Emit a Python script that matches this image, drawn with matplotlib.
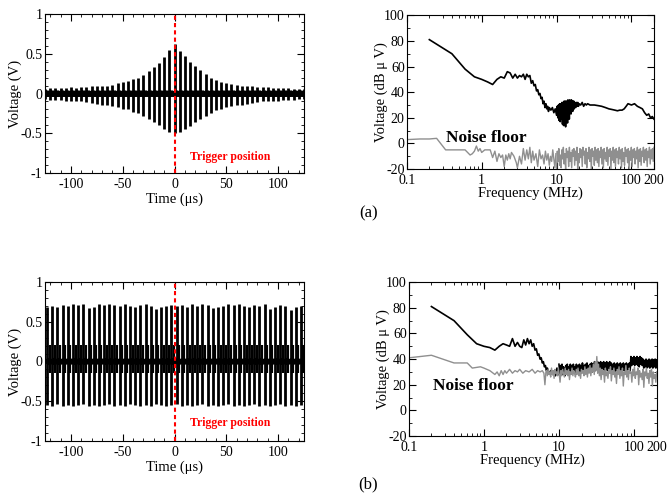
import numpy as np
import matplotlib
matplotlib.use("Agg")
import matplotlib.pyplot as plt
from matplotlib.ticker import MultipleLocator, FixedLocator, LogLocator, NullFormatter

plt.rcParams['font.family'] = ['Liberation Serif', 'DejaVu Serif']
plt.rcParams['font.size'] = 10
plt.rcParams['axes.unicode_minus'] = False

# ---------------- time domain data ----------------
# (a) pulse train, 5 us period, peak amplitudes read per pulse
TIME_A = [-125, -120, -115, -110, -105, -100, -95, -90, -85, -80, -75, -70, -65, -60, -55,
          -50, -45, -40, -35, -30, -25, -20, -15, -10, -5, 0, 5, 10, 15, 20, 25, 30, 35,
          40, 45, 50, 55, 60, 65, 70, 75, 80, 85, 90, 95, 100, 105, 110, 115, 120, 125]
POS_A = [0.06, 0.07, 0.07, 0.07, 0.07, 0.08, 0.07, 0.08, 0.08, 0.09, 0.09, 0.10, 0.10, 0.11, 0.13,
         0.15, 0.16, 0.18, 0.20, 0.23, 0.28, 0.33, 0.38, 0.46, 0.55, 0.62, 0.53, 0.47, 0.40, 0.35,
         0.29, 0.24, 0.20, 0.17, 0.15, 0.13, 0.12, 0.11, 0.10, 0.09, 0.09, 0.08, 0.08, 0.08, 0.07,
         0.07, 0.07, 0.07, 0.06, 0.06, 0.06]
NEG_A = [-0.07, -0.08, -0.08, -0.08, -0.09, -0.09, -0.10, -0.10, -0.11, -0.12, -0.13, -0.14, -0.15,
         -0.16, -0.17, -0.19, -0.20, -0.23, -0.25, -0.28, -0.32, -0.36, -0.40, -0.45, -0.48, -0.50,
         -0.48, -0.45, -0.41, -0.36, -0.32, -0.28, -0.25, -0.21, -0.19, -0.17, -0.16, -0.15, -0.14,
         -0.13, -0.12, -0.11, -0.10, -0.10, -0.09, -0.09, -0.08, -0.08, -0.08, -0.07, -0.07]

# (b) pulse train, tall pulses every 5 us plus small pulses in between
TIME_B = [-123, -118, -113, -108, -103, -98, -93, -88, -83, -78, -73, -68, -63, -58, -53,
          -48, -43, -38, -33, -28, -23, -18, -13, -8, -3, 2, 7, 12, 17, 22, 27, 32, 37,
          42, 47, 52, 57, 62, 67, 72, 77, 82, 87, 92, 97, 102, 107, 112, 117, 122]
POS_B = [0.69, 0.70, 0.69, 0.71, 0.70, 0.72, 0.71, 0.72, 0.67, 0.69, 0.72, 0.71, 0.72, 0.71, 0.70,
         0.72, 0.70, 0.69, 0.71, 0.72, 0.70, 0.66, 0.69, 0.70, 0.71, 0.70, 0.71, 0.69, 0.72, 0.70,
         0.72, 0.71, 0.67, 0.69, 0.70, 0.72, 0.71, 0.72, 0.70, 0.69, 0.71, 0.70, 0.72, 0.66, 0.69,
         0.71, 0.70, 0.65, 0.69, 0.70]
NEG_B = [-0.55, -0.56, -0.54, -0.56, -0.55, -0.56, -0.55, -0.54, -0.56, -0.55, -0.56, -0.55, -0.54,
         -0.56, -0.55, -0.56, -0.54, -0.55, -0.56, -0.55, -0.56, -0.54, -0.55, -0.56, -0.55, -0.54,
         -0.56, -0.55, -0.56, -0.55, -0.54, -0.56, -0.55, -0.56, -0.55, -0.54, -0.56, -0.55, -0.56,
         -0.55, -0.54, -0.56, -0.55, -0.56, -0.55, -0.54, -0.56, -0.55, -0.56, -0.55]
SMALL_POS_B = 0.21
SMALL_NEG_B = -0.15

# small ringing after each pulse (offset in us, value in V)
RING_DT = [0.6, 1.2, 1.8, 2.4, 3.0, 3.6, 4.2, 4.8]
RING_V = [0.035, -0.035, 0.03, -0.03, 0.03, -0.03, 0.025, -0.025]

# ---------------- spectrum data ----------------
# (a) signal spectrum
FREQ_A = [0.2, 0.4, 0.6, 0.8, 1.0, 1.2, 1.4, 1.6, 1.8, 2.0, 2.2, 2.4, 2.6, 2.8, 3.0, 3.2, 3.4,
          3.6, 3.8, 4.0, 4.2, 4.4, 4.6, 4.8, 5.0, 5.2, 5.4, 5.6, 5.8, 6.0, 6.2, 6.4, 6.6, 6.8,
          7.0, 7.2, 7.4, 7.6, 7.8, 8.0, 8.4, 8.8, 9.2, 9.6,
          10.0, 10.2, 10.4, 10.6, 10.8, 11.0, 11.2, 11.4, 11.6, 11.8, 12.0, 12.2, 12.4, 12.6,
          12.8, 13.0, 13.2, 13.4, 13.6, 13.8, 14.0, 14.2, 14.4, 14.6, 14.8, 15.0, 15.2, 15.4,
          15.6, 15.8, 16.0, 16.2, 16.4, 16.6, 16.8, 17.0, 17.2, 17.6, 18.0, 18.4, 18.8, 19.2,
          19.6, 20, 21, 22, 23, 24, 25, 26, 28, 30, 32, 36, 40, 45, 50, 55, 60, 65, 70, 75, 80,
          85, 90, 95, 100, 110, 120, 130, 140, 150, 160, 170, 180, 190, 200]
LEVEL_A = [81, 70, 58, 52, 50, 48, 46, 50, 52, 51, 56, 55, 51, 54, 51, 53, 52,
           54, 50, 54, 52, 53, 47, 49, 45, 46, 41, 42, 38, 39, 35, 36, 31, 33,
           28, 31, 27, 29, 25, 28, 26, 28, 24, 27,
           22, 29, 20, 30, 18, 31, 17, 31, 19, 32, 15, 32, 14, 33,
           20, 33, 13, 33, 22, 33, 16, 34, 24, 33, 19, 34, 25, 33,
           23, 34, 26, 33, 25, 33, 27, 33, 27, 32, 28, 32, 29, 32,
           29, 31, 30, 32, 29, 31, 30, 31, 30, 30, 30, 29.5, 29, 28, 27, 26.5, 26, 25.5, 26, 26, 27,
           29, 31, 30.5, 30, 31, 29, 28, 27, 24, 22, 23, 20, 21, 19]

# (a) noise floor, sparse low-frequency part and dense part from 10 to 200 MHz
FREQ_NA = [0.1, 0.15, 0.2, 0.25, 0.33, 0.4, 0.5, 0.6, 0.7, 0.75, 0.8, 0.85, 0.9, 0.95, 1.0,
           1.1, 1.2, 1.3, 1.4, 1.5, 1.6, 1.7, 1.8, 1.9, 2.0, 2.1, 2.2, 2.3, 2.4, 2.5, 2.7, 2.9,
           3.0, 3.2, 3.4, 3.6, 3.8, 4.0, 4.2, 4.4, 4.6, 4.8, 5.0, 5.3, 5.6, 5.9, 6.2, 6.5, 6.8,
           7.1, 7.4, 7.7, 8.0, 8.3, 8.6, 8.9, 9.2, 9.5, 9.8]
LEVEL_NA = [3, 3.5, 3.5, 4, -5, -5, -5, -5, -9, -8, -6, -2, -6, -4, -7,
            -5, -5, -5, -11, -6, -14, -8, -11, -9, -18, -9, -13, -8, -12, -7, -10, -15,
            -19, -10, -16, -4, -13, -5, -12, -3, -15, -6, -13, -8, -18, -5, -12, -9, -16,
            -6, -13, -8, -17, -10, -14, -5, -12, -19, -8]
DENSE_NA = [-20, -6, -14, -4, -17, -9, -19, -5, -12, -3, -16, -8, -20, -4, -11, -6, -18, -3,
            -14, -7, -19, -5, -10, -4, -17, -6, -13, -3, -20, -8, -15, -4, -11, -5, -18, -3,
            -9, -6, -16, -4, -19, -7, -12, -3, -14, -5, -20, -4, -10, -6, -17, -3, -13, -5,
            -15, -4, -18, -6, -11, -3, -16, -5, -19, -4, -12, -7, -14, -3, -17, -5, -10, -4,
            -20, -6, -13, -3, -15, -5, -18, -4, -11, -6, -16, -3, -12, -5, -19, -4, -14, -7,
            -17, -3, -10, -5, -15, -4, -20, -6, -13, -3, -18, -5, -11, -4, -16, -6, -12, -3,
            -19, -5, -14, -4, -17, -6, -10, -3, -15, -5, -13, -4, -18, -6, -11, -3, -16, -5,
            -12, -4, -14, -3]
DENSE_NA_SPAN = (10, 200)

# (b) signal spectrum
FREQ_B = [0.2, 0.4, 0.6, 0.8, 1.0, 1.2, 1.4, 1.6, 1.8, 2.0, 2.2, 2.4, 2.6, 2.8, 3.0, 3.2, 3.4,
          3.6, 3.8, 4.0, 4.2, 4.4, 4.6, 4.8, 5.0, 5.2, 5.4, 5.6, 5.8, 6.0, 6.2, 6.4, 6.6, 6.8,
          7.0, 7.4, 7.8, 8.2, 8.6, 9.0, 9.4, 9.8]
LEVEL_B = [81, 70, 59, 52, 50, 49, 47, 50, 52, 51, 50, 56, 50, 53, 50, 49, 55,
           51, 56, 52, 55, 50, 52, 47, 48, 43, 44, 40, 41, 37, 38, 34, 35, 31,
           33, 29, 31, 28, 30, 27, 33, 28]
DENSE_B = [36, 29, 35, 30, 36, 28, 34, 31, 27, 35, 30, 36, 29, 34, 31, 36, 30, 35, 29, 36,
           31, 34, 28, 36, 30, 35, 31, 36, 29, 35, 30, 37, 31, 35, 30, 36, 29, 37, 31, 35,
           30, 36, 31, 37, 30, 36, 31, 38, 31, 37, 32, 38, 30, 37, 31, 38, 32, 37, 31, 38,
           30, 37, 32, 38, 31, 37, 31, 38, 32, 37, 31, 36, 32, 37, 30, 36, 31, 37, 32, 36,
           31, 37, 30, 36, 32, 37, 31, 36, 32, 37, 31, 36, 32, 37, 31, 42, 35, 41, 36, 42,
           35, 41, 36, 42, 35, 41, 34, 42, 36, 41, 35, 40, 33, 39, 34, 40, 33, 39, 34, 40,
           33, 39, 34, 40, 33, 39, 34, 40, 33, 39]
DENSE_B_SPAN = (10, 200)

# (b) noise floor
FREQ_NB = [0.1, 0.2, 0.4, 0.6, 0.7, 0.9, 1.0, 1.2, 1.4, 1.5, 1.6, 1.7, 1.8, 1.9, 2.0, 2.2,
           2.4, 2.6, 2.8, 3.0, 3.3, 3.6, 4.0, 4.4, 4.8, 5.2, 5.6, 6.0, 6.3, 6.5, 6.7]
LEVEL_NB = [41, 43, 37, 37, 33, 34, 33, 31, 28, 30, 27, 31, 28, 31, 29, 32,
            29, 31, 30, 32, 29, 31, 30, 32, 29, 31, 30, 31, 29, 20, 30]
DENSE_NB = [31, 27, 32, 28, 30, 26, 33, 28, 31, 25, 32, 29, 30, 27, 33, 28, 22, 31, 27, 32,
            29, 26, 33, 28, 31, 27, 32, 24, 30, 28, 33, 27, 31, 29, 26, 32, 28, 33, 27, 30,
            25, 32, 29, 31, 27, 34, 28, 32, 26, 33, 29, 35, 27, 33, 30, 36, 28, 38, 31, 42,
            29, 36, 27, 33, 24, 32, 28, 31, 22, 33, 27, 30, 25, 32, 29, 34, 23, 31, 28, 33,
            26, 30, 21, 32, 28, 34, 25, 31, 27, 33, 19, 30, 28, 35, 26, 31, 24, 33, 29, 30,
            22, 32, 27, 34, 25, 30, 28, 33, 20, 31, 26, 29, 24, 32, 18, 30, 27, 33, 25, 29,
            21, 31, 26, 32, 19, 30, 25, 28, 22, 30]
DENSE_NB_SPAN = (6.8, 200)

TRACE_BLACK = 'black'
NOISE_GREY = '#8f8f8f'


def style_time_axes(ax):
    ax.set_xlim(-125, 125)
    ax.set_ylim(-1, 1)
    ax.xaxis.set_major_locator(MultipleLocator(50))
    ax.xaxis.set_minor_locator(MultipleLocator(10))
    ax.yaxis.set_major_locator(MultipleLocator(0.5))
    ax.yaxis.set_minor_locator(MultipleLocator(0.1))
    ax.yaxis.set_major_formatter(plt.FuncFormatter(lambda v, p: f'{v:g}'))
    ax.tick_params(which='both', direction='in', top=True, right=True, labelsize=10)
    ax.tick_params(which='major', length=5)
    ax.tick_params(axis='y', which='major', pad=2)
    ax.tick_params(which='minor', length=2.5)
    ax.set_xlabel('Time (μs)', fontsize=10.5, labelpad=1)
    ax.set_ylabel('Voltage (V)', fontsize=10.5, labelpad=-1)
    ax.axvline(0, color='red', ls=(0, (2, 1.5)), lw=1.5, zorder=5)


def style_freq_axes(ax):
    ax.set_xscale('log')
    ax.set_xlim(0.1, 200)
    ax.set_ylim(-20, 100)
    ax.xaxis.set_major_locator(FixedLocator([0.1, 1, 10, 100, 200]))
    ax.xaxis.set_major_formatter(plt.FixedFormatter(['0.1', '1', '10', '100', '200']))
    ax.xaxis.set_minor_locator(LogLocator(base=10, subs=np.arange(2, 10)))
    ax.xaxis.set_minor_formatter(NullFormatter())
    ax.yaxis.set_major_locator(MultipleLocator(20))
    ax.yaxis.set_minor_locator(MultipleLocator(10))
    ax.tick_params(which='both', direction='in', top=True, right=True, labelsize=10)
    ax.tick_params(which='major', length=5, pad=3.5)
    ax.tick_params(axis='y', which='major', pad=1.5)
    ax.tick_params(which='minor', length=2.5)
    ax.set_xlabel('Frequency (MHz)', fontsize=10.5, labelpad=0)
    ax.set_ylabel('Voltage (dB μ V)', fontsize=10.5, labelpad=-3)


def draw_ringing(ax, times):
    for t in times:
        ax.plot([t + d for d in RING_DT], RING_V, color=TRACE_BLACK, lw=1.2)
    ax.plot([TIME_A[0], TIME_A[-1]], [0, 0], color=TRACE_BLACK, lw=3.5)


fig = plt.figure(figsize=(6.68, 4.93), dpi=100)

# (a) time domain
ax1 = fig.add_axes([0.0674, 0.649, 0.3877, 0.3225])
draw_ringing(ax1, TIME_A)
ax1.vlines(TIME_A, NEG_A, POS_A, color=TRACE_BLACK, lw=2.0)
style_time_axes(ax1)
ax1.text(15, -0.80, 'Trigger position', color='red', fontweight='bold', fontsize=8.5,
         ha='left', va='center')

# (a) spectrum
ax2 = fig.add_axes([0.609, 0.657, 0.370, 0.312])
ax2.plot(FREQ_A, LEVEL_A, color=TRACE_BLACK, lw=1.2)
ax2.plot(FREQ_NA, LEVEL_NA, color=NOISE_GREY, lw=1.0)
ax2.plot(np.geomspace(*DENSE_NA_SPAN, len(DENSE_NA)), DENSE_NA, color=NOISE_GREY, lw=1.0)
style_freq_axes(ax2)
ax2.text(0.33, 4, 'Noise floor', fontweight='bold', fontsize=12.5, ha='left', va='center')

# (b) time domain
ax3 = fig.add_axes([0.0674, 0.1055, 0.3877, 0.3225])
draw_ringing(ax3, TIME_B)
ax3.vlines([t + 2.5 for t in TIME_B], SMALL_NEG_B, SMALL_POS_B, color=TRACE_BLACK, lw=1.6)
ax3.vlines(TIME_B, NEG_B, POS_B, color=TRACE_BLACK, lw=2.0)
style_time_axes(ax3)
ax3.text(15, -0.77, 'Trigger position', color='red', fontweight='bold', fontsize=8.5,
         ha='left', va='center')

# (b) spectrum
ax4 = fig.add_axes([0.612, 0.1156, 0.371, 0.312])
ax4.plot(FREQ_B, LEVEL_B, color=TRACE_BLACK, lw=1.2)
ax4.plot(np.geomspace(*DENSE_B_SPAN, len(DENSE_B)), DENSE_B, color=TRACE_BLACK, lw=1.2)
ax4.plot(FREQ_NB, LEVEL_NB, color=NOISE_GREY, lw=1.0)
ax4.plot(np.geomspace(*DENSE_NB_SPAN, len(DENSE_NB)), DENSE_NB, color=NOISE_GREY, lw=1.0)
style_freq_axes(ax4)
ax4.text(0.209, 19, 'Noise floor', fontweight='bold', fontsize=12.5, ha='left', va='center')

fig.text(0.551, 0.568, '(a)', fontsize=12, ha='center', va='center')
fig.text(0.551, 0.018, '(b)', fontsize=12, ha='center', va='center')

fig.savefig('out.png', dpi=100)
